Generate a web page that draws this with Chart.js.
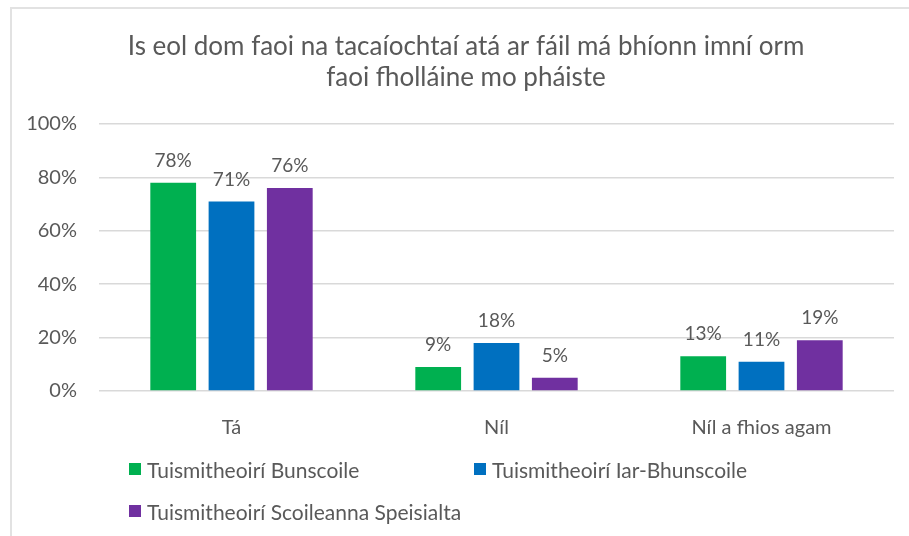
<!DOCTYPE html>
<html>
<head>
<meta charset="utf-8">
<script src="https://cdn.jsdelivr.net/npm/chart.js@4.4.1/dist/chart.umd.min.js"></script>
<style>
  body { margin: 0; background: #fff; }
  #wrap { position: relative; width: 909px; height: 536px; overflow: hidden; }
  #frame { position: absolute; left: 10px; top: 7px; width: 1000px; height: 600px;
           border-left: 2px solid #e2e2e2; border-top: 2px solid #e2e2e2; }
  #chart { position: absolute; left: 0; top: 0; }
  #legend { position: absolute; left: 129px; top: 458px; display: grid;
            grid-template-columns: 345px 345px; row-gap: 20px;
            font: 21px Lato, sans-serif; color: #595959; }
  #legend .item { display: flex; align-items: center; height: 22px; white-space: nowrap; }
  #legend .box { width: 12px; height: 12px; margin-right: 6px; }
</style>
</head>
<body>
<div id="wrap">
  <div id="frame"></div>
  <canvas id="chart" width="909" height="536"></canvas>
  <div id="legend"></div>
</div>
<script>
// categorias e valores (%)
const categorias = ['Tá', 'Níl', 'Níl a fhios agam'];
const bunscoile = [78, 9, 13];
const iarBhunscoile = [71, 18, 11];
const speisialta = [76, 5, 19];
const yTicks = [0, 20, 40, 60, 80, 100];

const texto = '#595959';
const fonte = 'Lato, sans-serif';

// rótulos de valor acima das barras
const valueLabels = {
  id: 'valueLabels',
  afterDatasetsDraw(chart) {
    const ctx = chart.ctx;
    ctx.save();
    ctx.font = '19px ' + fonte;
    ctx.fillStyle = texto;
    ctx.textAlign = 'center';
    ctx.textBaseline = 'middle';
    chart.data.datasets.forEach((ds, i) => {
      chart.getDatasetMeta(i).data.forEach((bar, j) => {
        ctx.fillText(ds.data[j] + '%', bar.x, bar.y - 22);
      });
    });
    ctx.restore();
  }
};

// o título fica centrado na caixa inteira do gráfico (que passa da borda direita)
const titleOffset = {
  id: 'titleOffset',
  afterLayout(chart) {
    if (chart.titleBlock) chart.titleBlock.left += 38;
  }
};

// legenda em HTML, em duas colunas
const htmlLegend = {
  id: 'htmlLegend',
  afterUpdate(chart) {
    const el = document.getElementById('legend');
    el.innerHTML = '';
    const items = chart.options.plugins.legend.labels.generateLabels(chart);
    items.forEach(item => {
      const div = document.createElement('div');
      div.className = 'item';
      const box = document.createElement('span');
      box.className = 'box';
      box.style.background = item.fillStyle;
      div.appendChild(box);
      div.appendChild(document.createTextNode(item.text));
      el.appendChild(div);
    });
  }
};

const ctx = document.getElementById('chart').getContext('2d');
const chart = new Chart(ctx, {
  type: 'bar',
  data: {
    labels: categorias,
    datasets: [
      { label: 'Tuismitheoirí Bunscoile', data: bunscoile, backgroundColor: '#00B050' },
      { label: 'Tuismitheoirí Iar-Bhunscoile', data: iarBhunscoile, backgroundColor: '#0070C0' },
      { label: 'Tuismitheoirí Scoileanna Speisialta', data: speisialta, backgroundColor: '#7030A0' }
    ]
  },
  options: {
    responsive: false,
    animation: false,
    categoryPercentage: 0.66,
    barPercentage: 0.785,
    layout: { padding: { left: 0, right: 15, top: 0, bottom: 95 } },
    plugins: {
      legend: { display: false },
      tooltip: { enabled: false },
      title: {
        display: true,
        text: ['Is eol dom faoi na tacaíochtaí atá ar fáil má bhíonn imní orm', 'faoi fholláine mo pháiste'],
        color: texto,
        font: { family: fonte, size: 26, weight: 'normal', lineHeight: 31 / 26 },
        padding: { top: 31.5, bottom: 30.5 }
      }
    },
    scales: {
      x: {
        grid: { display: false },
        border: { display: false },
        ticks: { color: texto, font: { family: fonte, size: 20 }, padding: 17 },
        afterFit: s => { s.height = 50; }
      },
      y: {
        min: 0,
        max: 100,
        afterBuildTicks: s => { s.ticks = yTicks.map(v => ({ value: v })); },
        grid: { color: '#d9d9d9', lineWidth: 1.5, drawTicks: false },
        border: { display: false },
        ticks: { color: texto, font: { family: fonte, size: 20 }, padding: 22, callback: v => v + '%' },
        afterFit: s => { s.width = 99; }
      }
    }
  },
  plugins: [valueLabels, titleOffset, htmlLegend]
});
</script>
</body>
</html>
